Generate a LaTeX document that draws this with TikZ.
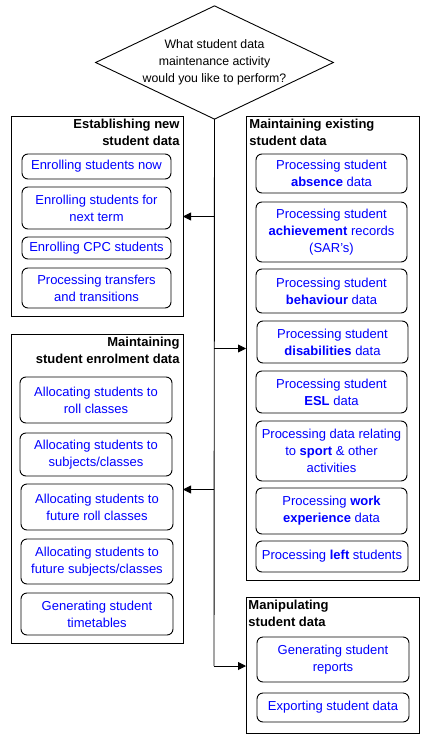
\documentclass[tikz,border=0pt]{standalone}
\usepackage{fontspec}
\setmainfont{Liberation Sans}
\usetikzlibrary{shapes.geometric,arrows.meta}
\newcommand\mybox[7]{\node[#1,minimum width={(#4-#2)*1pt},minimum height={(#5-#3)*1pt}] (#6) at ({(#2+#4)/2},{(#3+#5)/2}) {#7};}
\begin{document}
\begin{tikzpicture}[x=1pt,y=-1pt,line width=0.9pt,
 ibox/.style={draw,rounded corners=6pt,text=blue,align=center,inner sep=0pt,outer sep=0pt,font=\fontsize{13}{16.8}\selectfont},
 obox/.style={draw,inner sep=0pt,outer sep=0pt},
 ttl/.style={font=\fontsize{13}{16.6}\selectfont\bfseries,inner sep=0pt},
 arr/.style={-{Triangle[length=8pt,width=8pt]}},
 dec/.style={draw,diamond,aspect=2.1,inner sep=0pt,outer sep=0pt,minimum width=229pt,minimum height=109pt,align=center,font=\fontsize{12.3}{16.7}\selectfont}]
\useasboundingbox (0,0) rectangle (431,741);
\node[dec] (q) at (214.5,62.5) {What student data\\maintenance activity\\would you like to perform?};
% outer boxes
\mybox{obox}{11}{116}{183}{316}{b1}{}
\mybox{obox}{11}{334}{183}{643}{b2}{}
\mybox{obox}{246}{116}{419}{580}{b3}{}
\mybox{obox}{246}{597}{419}{733}{b4}{}
\node[ttl,anchor=north east,align=right] (t1) at ([xshift=-3pt,yshift=-3pt]b1.north east) {Establishing new\\student data};
\node[ttl,anchor=north east,align=right] (t2) at ([xshift=-3pt,yshift=-3pt]b2.north east) {Maintaining\\student enrolment data};
\node[ttl,anchor=north west,align=left] (t3) at ([xshift=3pt,yshift=-3pt]b3.north west) {Maintaining existing\\student data};
\node[ttl,anchor=north west,align=left] (t4) at ([xshift=2pt,yshift=-3pt]b4.north west) {Manipulating\\student data};
% box 1
\mybox{ibox}{22}{154}{171}{179}{e1}{Enrolling students now}
\mybox{ibox}{22}{187}{171}{229}{e2}{Enrolling students for\\next term}
\mybox{ibox}{22}{237}{171}{259}{e3}{Enrolling CPC students}
\mybox{ibox}{22}{268}{171}{308}{e4}{Processing transfers\\and transitions}
% box 2
\mybox{ibox}{20}{377}{172}{423}{m1}{Allocating students to\\roll classes}
\mybox{ibox}{20}{433}{172}{476}{m2}{Allocating students to\\subjects/classes}
\mybox{ibox}{21}{484}{173}{530}{m3}{Allocating students to\\future roll classes}
\mybox{ibox}{21}{539}{173}{584}{m4}{Allocating students to\\future subjects/classes}
\mybox{ibox}{21}{593}{173}{635}{m5}{Generating student\\timetables}
% box 3
\mybox{ibox}{256}{154}{407}{193}{p1}{Processing student\\\textbf{absence} data}
\mybox{ibox}{256}{202}{407}{262}{p2}{Processing student\\\textbf{achievement} records\\(SAR's)}
\mybox{ibox}{256}{269}{407}{313}{p3}{Processing student\\\textbf{behaviour} data}
\mybox{ibox}{257}{321}{408}{363}{p4}{Processing student\\\textbf{disabilities} data}
\mybox{ibox}{256}{371}{407}{413}{p5}{Processing student\\\textbf{ESL} data}
\mybox{ibox}{256}{421}{407}{481}{p6}{Processing data relating\\to \textbf{sport} \& other\\activities}
\mybox{ibox}{256}{488}{407}{534}{p7}{Processing \textbf{work}\\\textbf{experience} data}
\mybox{ibox}{256}{541}{408}{572}{p8}{Processing \textbf{left} students}
% box 4
\mybox{ibox}{257}{637}{409}{682}{g1}{Generating student\\reports}
\mybox{ibox}{257}{693}{409}{722}{g2}{Exporting student data}
% connectors
\coordinate (j1) at (214,216.5);
\coordinate (j2) at (214,348.5);
\coordinate (j3) at (214,489.5);
\coordinate (j4) at (214,666);
\draw (q.south) -- (j4);
\draw[arr] (j1) -- (j1 -| b1.east);
\draw[arr] (j2) -- (j2 -| b3.west);
\draw[arr] (j3) -- (j3 -| b2.east);
\draw[arr] (j4) -- (j4 -| b4.west);
\end{tikzpicture}
\end{document}
